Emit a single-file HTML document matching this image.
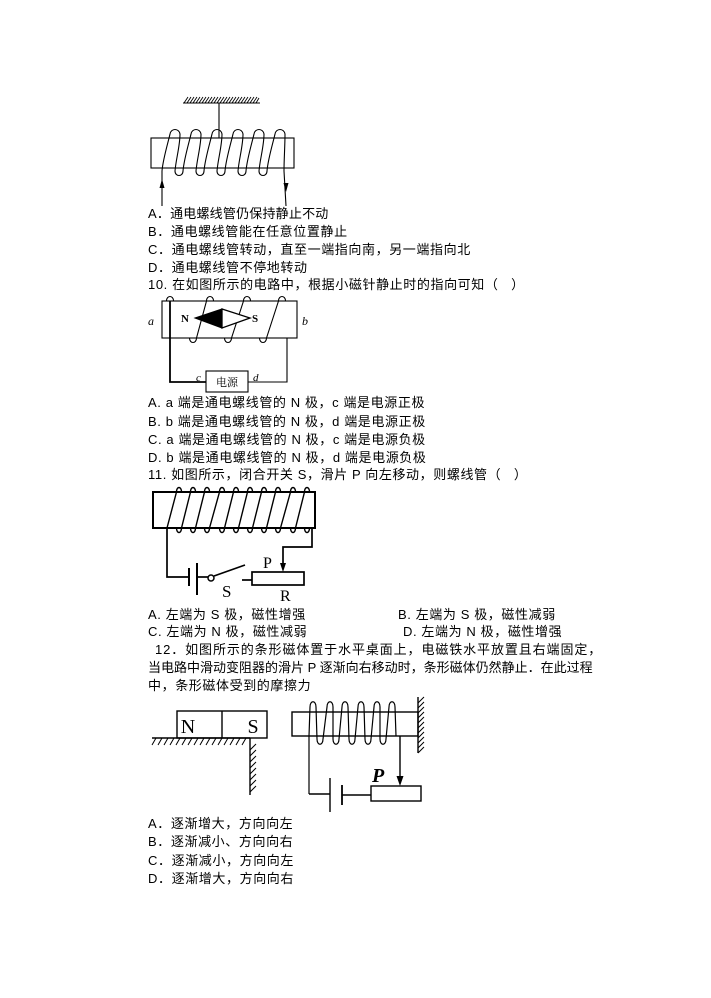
<!DOCTYPE html>
<html>
<head>
<meta charset="utf-8">
<style>
html,body{margin:0;padding:0;background:#fff;}
body{width:711px;height:998px;position:relative;overflow:hidden;}
.t{position:absolute;white-space:nowrap;font-family:"Liberation Sans","Noto Sans CJK SC",sans-serif;font-size:13px;line-height:16px;color:#000;letter-spacing:0.6px;}
svg{position:absolute;left:0;top:0;}
.lbl{font-family:"Liberation Serif",serif;}
</style>
</head>
<body>
<svg width="711" height="998" viewBox="0 0 711 998" xmlns="http://www.w3.org/2000/svg">
  <!-- ===== Diagram 1 ===== -->
  <g stroke="#000" fill="none" stroke-width="1.1">
    <line x1="183" y1="103" x2="260" y2="103"/>
    <path d="M184,103 l4,-6 M187,103 l4,-6 M190,103 l4,-6 M193,103 l4,-6 M196,103 l4,-6 M199,103 l4,-6 M202,103 l4,-6 M205,103 l4,-6 M208,103 l4,-6 M211,103 l4,-6 M214,103 l4,-6 M217,103 l4,-6 M220,103 l4,-6 M223,103 l4,-6 M226,103 l4,-6 M229,103 l4,-6 M232,103 l4,-6 M235,103 l4,-6 M238,103 l4,-6 M241,103 l4,-6 M244,103 l4,-6 M247,103 l4,-6 M250,103 l4,-6 M253,103 l4,-6 M256,103 l3,-5" stroke-width="0.9"/>
    <line x1="219" y1="103" x2="219" y2="138"/>
    <rect x="151" y="138" width="143" height="30"/>
    <path d="M162,206 L162,171
      c1,-12 6,-28 8,-37 c1,-6 9,-6 10,0 c0,12 -4,25 -5,37 c0,6 8,6 8,0
      c1,-12 6,-28 8,-37 c1,-6 9,-6 10,0 c0,12 -4,25 -5,37 c0,6 8,6 8,0
      c1,-12 6,-28 8,-37 c1,-6 9,-6 10,0 c0,12 -4,25 -5,37 c0,6 8,6 8,0
      c1,-12 6,-28 8,-37 c1,-6 9,-6 10,0 c0,12 -4,25 -5,37 c0,6 8,6 8,0
      c1,-12 6,-28 8,-37 c1,-6 9,-6 10,0 c0,12 -4,25 -5,37 c0,6 8,6 8,0
      c1,-12 6,-28 8,-37 c1,-6 9,-6 10,0 c0,12 -1,25 -1,37 L286,206"/>
  </g>
  <polygon points="162,179 159.5,188 164.5,188" fill="#000"/>
  <polygon points="286,192 283.5,183 288.5,183" fill="#000"/>

  <!-- ===== Diagram 2 ===== -->
  <g stroke="#000" fill="none" stroke-width="1.1">
    <rect x="162" y="301" width="135" height="37" fill="#fff"/>
    <path d="M166.5,301 c0,-6 7,-6 7,0 M206.5,301 c0,-6 7,-6 7,0 M243.5,301 c0,-6 7,-6 7,0 M278.5,301 c0,-6 7,-6 7,0"/>
    <path d="M189.5,338 c0,6 7,6 7,0 M224.5,338 c0,6 7,6 7,0 M259.5,338 c0,6 7,6 7,0"/>
    <path d="M196.5,338 L206.5,301 M231.5,338 L243.5,301 M266.5,338 L278.5,301"/>
    <path d="M170,301 L170,382 L206,382" stroke-width="1.8"/>
    <path d="M287,338 L287,382 L248,382"/>
    <rect x="206" y="371" width="42" height="21"/>
  </g>
  <polygon points="195,318 222,309 222,328" fill="#000" stroke="#000" stroke-width="1"/>
  <polygon points="222,309 250,318 222,328" fill="#fff" stroke="#000" stroke-width="1.3"/>
  <text x="181" y="322" class="lbl" font-size="11" font-weight="bold">N</text>
  <text x="252" y="322" class="lbl" font-size="11" font-weight="bold">S</text>
  <text x="148" y="325" class="lbl" font-size="12" font-style="italic">a</text>
  <text x="302" y="325" class="lbl" font-size="12" font-style="italic">b</text>
  <text x="196" y="381" class="lbl" font-size="11" font-style="italic">c</text>
  <text x="253" y="381" class="lbl" font-size="11" font-style="italic">d</text>
  <text x="227" y="386" font-family="'Noto Serif CJK SC','Noto Sans CJK SC',serif" font-size="11" text-anchor="middle">电源</text>

  <!-- ===== Diagram 3 ===== -->
  <g stroke="#000" fill="none" stroke-width="1.7">
    <rect x="153" y="492" width="162" height="36" stroke-width="2"/>
    <path d="M176.5,492 c0,-6 5,-6 5,0 M190.5,492 c0,-6 5,-6 5,0 M204.5,492 c0,-6 5,-6 5,0 M219.5,492 c0,-6 5,-6 5,0 M233.5,492 c0,-6 5,-6 5,0 M247.5,492 c0,-6 5,-6 5,0 M261.5,492 c0,-6 5,-6 5,0 M275.5,492 c0,-6 5,-6 5,0 M290.5,492 c0,-6 5,-6 5,0 M304.5,492 c0,-6 5,-6 5,0" stroke-width="1.4"/>
    <path d="M176.5,528 c0,6 5,6 5,0 M190.5,528 c0,6 5,6 5,0 M204.5,528 c0,6 5,6 5,0 M219.5,528 c0,6 5,6 5,0 M233.5,528 c0,6 5,6 5,0 M247.5,528 c0,6 5,6 5,0 M261.5,528 c0,6 5,6 5,0 M275.5,528 c0,6 5,6 5,0 M290.5,528 c0,6 5,6 5,0 M304.5,528 c0,6 5,6 5,0" stroke-width="1.4"/>
    <path d="M167,528 L176.5,492 M181.5,528 L190.5,492 M195.5,528 L204.5,492 M209.5,528 L219.5,492 M224.5,528 L233.5,492 M238.5,528 L247.5,492 M252.5,528 L261.5,492 M266.5,528 L275.5,492 M280.5,528 L290.5,492 M295.5,528 L304.5,492" stroke-width="1.4"/>
    <path d="M167,528 L167,577 L189,577"/>
    <line x1="189" y1="568" x2="189" y2="586" stroke-width="2"/>
    <line x1="197" y1="563" x2="197" y2="595" stroke-width="2"/>
    <line x1="197" y1="577" x2="208" y2="577"/>
    <circle cx="211" cy="578" r="3" stroke-width="1.5"/>
    <line x1="214" y1="576" x2="245" y2="565"/>
    <line x1="242" y1="580" x2="252" y2="580"/>
    <rect x="252" y="572" width="52" height="13"/>
    <path d="M312,528 L312,547 L283,547 L283,565"/>
  </g>
  <polygon points="283,572 280,563 286,563" fill="#000"/>
  <text x="263" y="568" class="lbl" font-size="16">P</text>
  <text x="222" y="597" class="lbl" font-size="17">S</text>
  <text x="280" y="601" class="lbl" font-size="16">R</text>

  <!-- ===== Diagram 4 ===== -->
  <g stroke="#000" fill="none" stroke-width="1.4">
    <rect x="177" y="711" width="90" height="27"/>
    <line x1="222" y1="711" x2="222" y2="738"/>
    <line x1="152" y1="738" x2="250" y2="738"/>
    <path d="M152,745 l4,-7 M158,745 l4,-7 M164,745 l4,-7 M170,745 l4,-7 M176,745 l4,-7 M182,745 l4,-7 M188,745 l4,-7 M194,745 l4,-7 M200,745 l4,-7 M206,745 l4,-7 M212,745 l4,-7 M218,745 l4,-7 M224,745 l4,-7 M230,745 l4,-7 M236,745 l4,-7 M242,745 l4,-7" stroke-width="1"/>
    <line x1="250" y1="738" x2="250" y2="795"/>
    <path d="M250,750 l6,-6 M250,756 l6,-6 M250,762 l6,-6 M250,768 l6,-6 M250,774 l6,-6 M250,780 l6,-6 M250,786 l6,-6 M250,792 l6,-6" stroke-width="1"/>
    <rect x="292" y="712" width="126" height="24"/>
    <line x1="418" y1="697" x2="418" y2="753"/>
    <path d="M418,703 l6,-6 M418,708 l6,-6 M418,713 l6,-6 M418,718 l6,-6 M418,723 l6,-6 M418,728 l6,-6 M418,733 l6,-6 M418,738 l6,-6 M418,743 l6,-6 M418,748 l6,-6 M418,753 l6,-6" stroke-width="1"/>
    <path d="M309,794 L309,736 L310,707 c0,-7 6,-7 6,0 L317,739 c0,7 6,7 6,0 L327,707 c0,-7 6,-7 6,0 L333,739 c0,7 6,7 6,0 L342,707 c0,-7 6,-7 6,0 L349,739 c0,7 6,7 6,0 L358,707 c0,-7 6,-7 6,0 L365,739 c0,7 6,7 6,0 L374,707 c0,-7 6,-7 6,0 L380,739 c0,7 6,7 6,0 L389,707 c0,-7 6,-7 6,0 L396,736" stroke-width="1.2"/>
    <line x1="309" y1="794" x2="330" y2="794"/>
    <line x1="330" y1="778" x2="330" y2="812"/>
    <line x1="342" y1="785" x2="342" y2="805" stroke-width="1.8"/>
    <line x1="342" y1="795" x2="371" y2="795"/>
    <rect x="371" y="786" width="50" height="15"/>
    <line x1="400" y1="736" x2="400" y2="777"/>
  </g>
  <polygon points="400,786 396.5,776 403.5,776" fill="#000"/>
  <text x="188" y="733" class="lbl" font-size="20" text-anchor="middle">N</text>
  <text x="253" y="733" class="lbl" font-size="20" text-anchor="middle">S</text>
  <text x="372" y="782" class="lbl" font-size="20" font-style="italic" font-weight="bold">P</text>
</svg>

<!-- Text block 1 -->
<div class="t" style="left:148px;top:206px;letter-spacing:0.2px;">A．通电螺线管仍保持静止不动</div>
<div class="t" style="left:148px;top:224px;">B．通电螺线管能在任意位置静止</div>
<div class="t" style="left:148px;top:242px;">C．通电螺线管转动，直至一端指向南，另一端指向北</div>
<div class="t" style="left:148px;top:260px;">D．通电螺线管不停地转动</div>
<div class="t" style="left:148px;top:277px;">10. 在如图所示的电路中，根据小磁针静止时的指向可知（&nbsp;&nbsp;&nbsp;）</div>

<!-- Text block 2 -->
<div class="t" style="left:148px;top:395px;">A. a 端是通电螺线管的 N 极，c 端是电源正极</div>
<div class="t" style="left:148px;top:414px;">B. b 端是通电螺线管的 N 极，d 端是电源正极</div>
<div class="t" style="left:148px;top:432px;">C. a 端是通电螺线管的 N 极，c 端是电源负极</div>
<div class="t" style="left:148px;top:450px;">D. b 端是通电螺线管的 N 极，d 端是电源负极</div>
<div class="t" style="left:148px;top:467px;">11. 如图所示，闭合开关 S，滑片 P 向左移动，则螺线管（&nbsp;&nbsp;&nbsp;）</div>

<!-- Text block 3 -->
<div class="t" style="left:148px;top:607px;">A. 左端为 S 极，磁性增强</div>
<div class="t" style="left:398px;top:607px;">B. 左端为 S 极，磁性减弱</div>
<div class="t" style="left:148px;top:624px;">C. 左端为 N 极，磁性减弱</div>
<div class="t" style="left:403px;top:624px;">D. 左端为 N 极，磁性增强</div>
<div class="t" style="left:155px;top:642px;letter-spacing:0.9px;">12．如图所示的条形磁体置于水平桌面上，电磁铁水平放置且右端固定，</div>
<div class="t" style="left:148px;top:660px;letter-spacing:0px;">当电路中滑动变阻器的滑片 P 逐渐向右移动时，条形磁体仍然静止．在此过程</div>
<div class="t" style="left:148px;top:678px;">中，条形磁体受到的摩擦力</div>

<!-- Text block 4 -->
<div class="t" style="left:148px;top:816px;">A．逐渐增大，方向向左</div>
<div class="t" style="left:148px;top:834px;">B．逐渐减小、方向向右</div>
<div class="t" style="left:148px;top:853px;">C．逐渐减小，方向向左</div>
<div class="t" style="left:148px;top:871px;">D．逐渐增大，方向向右</div>
</body>
</html>
